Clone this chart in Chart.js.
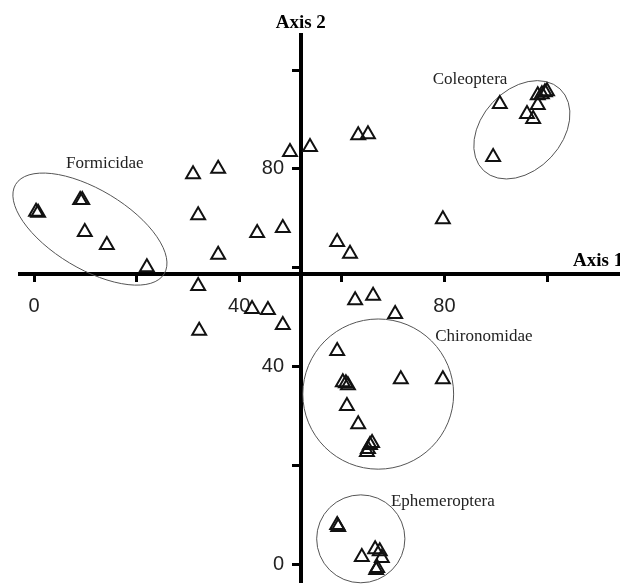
<!DOCTYPE html>
<html>
<head>
<meta charset="utf-8">
<script src="https://cdn.jsdelivr.net/npm/chart.js@4.4.1/dist/chart.umd.min.js"></script>
<style>
  html, body { margin: 0; padding: 0; background: #fff; }
  canvas { display: block; }
</style>
</head>
<body>
<canvas id="ord" width="620" height="584"></canvas>
<script>
// sample scores on the two ordination axes
const axis1 = [0.4, 0.8, 9.0, 9.4, 9.9, 14.2, 22.0,
  31.0, 35.9, 32.0, 43.5, 48.5, 35.9, 49.9, 53.8, 32.0, 42.5, 45.6, 48.5, 32.2,
  63.2, 65.1, 79.7, 59.1, 61.6, 62.6, 66.1, 70.4,
  90.8, 89.5, 98.2, 99.0, 99.6, 100.0, 98.2, 96.1, 97.3,
  59.1, 60.2, 60.8, 61.2, 71.5, 79.7, 61.0, 63.2, 64.9, 65.1, 65.5, 65.9,
  59.1, 59.3, 63.9, 66.5, 67.4, 67.8, 66.9, 66.7];
const axis2 = [71.3, 71.1, 73.7, 73.7, 67.2, 64.6, 60.1,
  78.9, 80.0, 70.6, 67.0, 68.0, 62.6, 83.4, 84.4, 56.3, 51.6, 51.4, 48.4, 47.2,
  86.8, 87.0, 69.8, 65.2, 62.8, 53.4, 54.3, 50.6,
  93.1, 82.4, 94.9, 95.1, 95.5, 95.7, 92.9, 91.1, 90.1,
  43.1, 36.8, 36.6, 36.2, 37.4, 37.4, 32.0, 28.3, 22.7, 23.3, 24.1, 24.5,
  7.9, 7.5, 1.4, 3.0, 2.6, 1.2, -0.8, -1.2];

// envelopes round the taxon groups (axis units)
const groupNames = ['Formicidae', 'Coleoptera', 'Chironomidae', 'Ephemeroptera'];
const groupX = [10.9, 95.1, 67.1, 63.7];
const groupY = [67.8, 87.9, 34.4, 5.1];
const groupRx = [16.9, 10.9, 14.7, 8.6];
const groupRy = [8.0, 8.1, 15.2, 8.9];
const groupTilt = [31, -47, 0, 0];
const labelX = [13.8, 85.0, 87.7, 79.7];
const labelY = [81.0, 98.0, 46.0, 12.6];

const shownTicks = [0, 40, 80];
const crossX = 52;
const crossY = 58.7;

const tickFont = { family: 'Liberation Sans', size: 20 };
const tickText = v => shownTicks.includes(v) ? String(v) : '';

// crossing axes should not take room from the plot
function noRoom(s) {
  if (s.isHorizontal()) s.height = 0; else s.width = 0;
  s.paddingLeft = s.paddingRight = s.paddingTop = s.paddingBottom = 0;
}

const extras = {
  id: 'extras',
  beforeDatasetsDraw(chart) {
    const { ctx, scales: { x, y } } = chart;
    ctx.save();
    ctx.strokeStyle = '#555';
    ctx.lineWidth = 1;
    groupNames.forEach((name, i) => {
      const cx = x.getPixelForValue(groupX[i]);
      const cy = y.getPixelForValue(groupY[i]);
      const rx = x.getPixelForValue(groupX[i] + groupRx[i]) - cx;
      const ry = cy - y.getPixelForValue(groupY[i] + groupRy[i]);
      ctx.beginPath();
      ctx.ellipse(cx, cy, rx, ry, groupTilt[i] * Math.PI / 180, 0, Math.PI * 2);
      ctx.stroke();
    });
    ctx.restore();
  },
  afterDatasetsDraw(chart) {
    const { ctx, chartArea, scales: { x, y } } = chart;
    ctx.save();
    ctx.fillStyle = '#222';
    ctx.font = '17px "Liberation Serif"';
    ctx.textAlign = 'center';
    ctx.textBaseline = 'middle';
    groupNames.forEach((name, i) => {
      ctx.fillText(name, x.getPixelForValue(labelX[i]), y.getPixelForValue(labelY[i]));
    });
    ctx.fillStyle = '#000';
    ctx.font = 'bold 19px "Liberation Serif"';
    ctx.textBaseline = 'alphabetic';
    ctx.fillText('Axis 2', x.getPixelForValue(crossX), chartArea.top - 7);
    ctx.textAlign = 'left';
    ctx.fillText('Axis 1', chartArea.right - 47, y.getPixelForValue(crossY) - 8);
    ctx.restore();
  }
};

new Chart(document.getElementById('ord'), {
  type: 'scatter',
  data: {
    datasets: [{
      label: 'samples',
      data: axis1.map((v, i) => ({ x: v, y: axis2[i] })),
      pointStyle: 'triangle',
      pointRadius: 8,
      pointHoverRadius: 8,
      borderColor: '#111',
      borderWidth: 2,
      backgroundColor: 'rgba(255,255,255,0)',
      clip: false
    }]
  },
  options: {
    responsive: false,
    animation: false,
    layout: { autoPadding: false, padding: { left: 20, top: 35, right: 0, bottom: 2 } },
    plugins: { legend: { display: false }, tooltip: { enabled: false } },
    scales: {
      x: {
        type: 'linear',
        min: -2.73,
        max: 114.23,
        position: { y: crossY },
        afterFit: noRoom,
        grid: { display: true, drawOnChartArea: false, drawTicks: true, tickLength: 6, tickWidth: 3, tickColor: '#000' },
        border: { display: true, color: '#000', width: 4 },
        ticks: { stepSize: 20, includeBounds: false, autoSkip: false, maxRotation: 0, padding: 14, color: '#222', font: tickFont, callback: tickText }
      },
      y: {
        type: 'linear',
        min: -3.64,
        max: 107.09,
        position: { x: crossX },
        afterFit: noRoom,
        grid: { display: true, drawOnChartArea: false, drawTicks: true, tickLength: 7, tickWidth: 3, tickColor: '#000' },
        border: { display: true, color: '#000', width: 4 },
        // labels sit right-aligned on the axis line, so pad them off it
        ticks: { stepSize: 20, includeBounds: false, autoSkip: false, color: '#222', font: tickFont, callback: v => shownTicks.includes(v) ? v + '   ' : '' }
      }
    }
  },
  plugins: [extras]
});
</script>
</body>
</html>
